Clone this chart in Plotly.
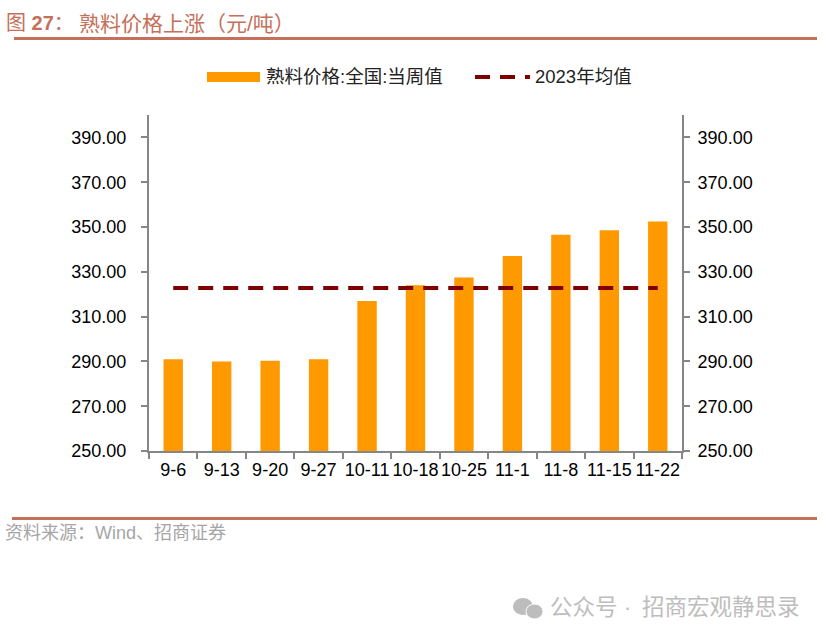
import plotly.graph_objects as go

categories = ["9-6", "9-13", "9-20", "9-27", "10-11", "10-18", "10-25", "11-1", "11-8", "11-15", "11-22"]
clinker_price = [291.0, 290.0, 290.3, 291.0, 317.0, 324.0, 327.5, 337.0, 346.5, 348.5, 352.5]
avg_2023 = [322.8] * len(categories)
y_ticks = [250, 270, 290, 310, 330, 350, 370, 390]
y_labels = ["%.2f" % v for v in y_ticks]

W, H = 826, 640
L, R, T, B = 149, 682, 115, 451
ACCENT = "#C4705A"
LATIN = "Liberation Sans, Noto Sans CJK SC"

def px(x):
    return (x - L) / (R - L)

def py(y):
    return (B - y) / (B - T)

fig = go.Figure()
fig.add_trace(go.Bar(x=categories, y=clinker_price, name="熟料价格:全国:当周值",
                     marker=dict(color="#FF9900", line=dict(width=0)), width=0.4))
fig.add_trace(go.Scatter(x=categories, y=avg_2023, name="2023年均值", mode="lines", yaxis="y2",
                         line=dict(color="#7F0000", width=4, dash="15px,10px")))

axis_common = dict(range=[250, 400], tickmode="array", tickvals=y_ticks, ticktext=y_labels,
                   showgrid=False, zeroline=False, showline=True, linecolor="#868686", linewidth=2,
                   ticks="outside", ticklen=6, tickwidth=2, tickcolor="#868686",
                   tickfont=dict(family=LATIN, size=18, color="#000000"))

shapes = [
    dict(type="line", xref="paper", yref="paper", x0=px(14), x1=px(817), y0=py(38.5), y1=py(38.5),
         line=dict(color=ACCENT, width=3)),
    dict(type="line", xref="paper", yref="paper", x0=px(12), x1=px(817), y0=py(518.5), y1=py(518.5),
         line=dict(color=ACCENT, width=3)),
    dict(type="rect", xref="paper", yref="paper", x0=px(207), x1=px(260), y0=py(72), y1=py(82),
         fillcolor="#FF9900", line=dict(width=0)),
    dict(type="line", xref="paper", yref="paper", x0=px(475), x1=px(530), y0=py(77), y1=py(77),
         line=dict(color="#7F0000", width=4, dash="15px,10px")),
    dict(type="circle", xref="paper", yref="paper", x0=px(513), x1=px(533), y0=py(598), y1=py(615),
         fillcolor="#BDBDBD", line=dict(width=0)),
    dict(type="circle", xref="paper", yref="paper", x0=px(526), x1=px(543), y0=py(604), y1=py(619),
         fillcolor="#BDBDBD", line=dict(color="#FFFFFF", width=1)),
]

def note(x, y, text, size, color):
    return dict(xref="paper", yref="paper", x=px(x), y=py(y), text=text, showarrow=False,
                xanchor="left", yanchor="middle", align="left", borderpad=0,
                font=dict(family=LATIN, size=size, color=color))

annotations = [
    note(5, 23, "图 <b>27</b>\uff1a", 20, ACCENT),
    note(78, 23, "熟料价格上涨\uff08元/吨\uff09", 21, ACCENT),
    note(265, 77, "熟料价格:全国:当周值", 18.5, "#222222"),
    note(534, 77, "2023年均值", 18.5, "#222222"),
    note(4, 533, "资料来源\uff1aWind、招商证券", 18, "#A6A6A6"),
    note(549, 607, "公众号 ·\u2009 招商宏观静思录", 22.5, "#BDBDBD"),
]

fig.update_layout(
    width=W, height=H, autosize=False,
    margin=dict(l=L, r=W - R, t=T, b=H - B, pad=0),
    paper_bgcolor="#FFFFFF", plot_bgcolor="#FFFFFF",
    showlegend=False, bargap=0.6,
    xaxis=dict(type="category", tickson="boundaries", showgrid=False, showline=True,
               linecolor="#868686", linewidth=2, ticks="outside", ticklen=6, tickwidth=2,
               tickcolor="#868686", tickangle=0, ticklabelstandoff=1,
               tickfont=dict(family=LATIN, size=18, color="#000000")),
    yaxis=dict(side="left", ticklabelstandoff=11, **axis_common),
    yaxis2=dict(side="right", overlaying="y", ticklabelstandoff=4, **axis_common),
    shapes=shapes, annotations=annotations,
)
fig.write_html("out.html", config=dict(displayModeBar=False),
               post_script="document.body.style.margin='0';")
